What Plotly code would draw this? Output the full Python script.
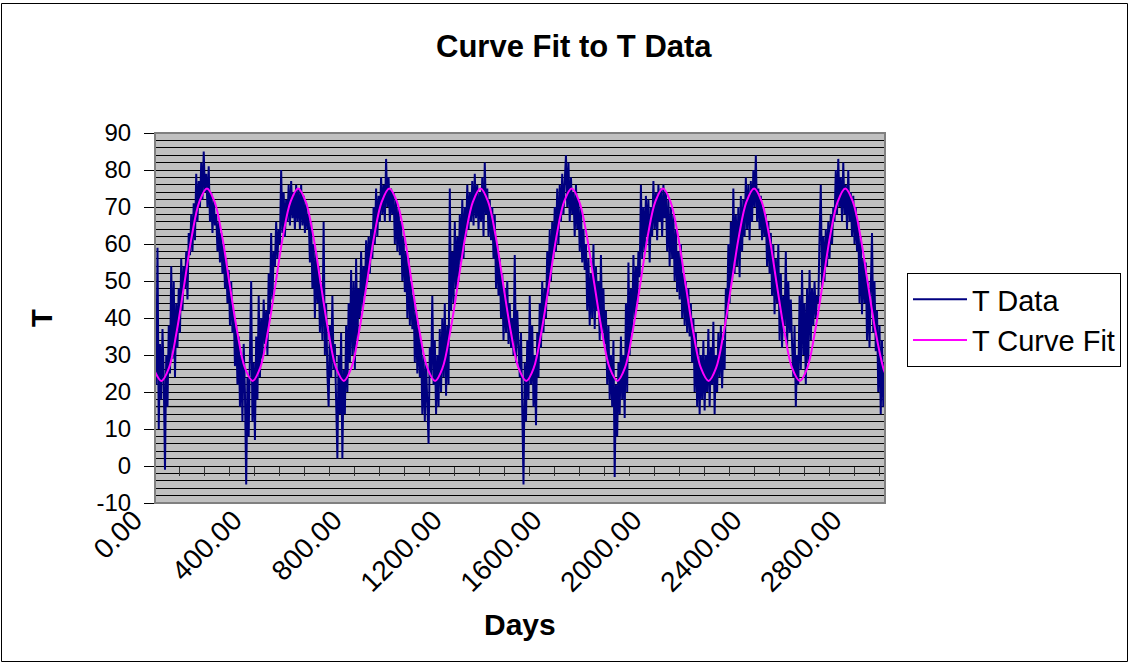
import plotly.graph_objects as go

# Daily temperature record, sampled every 5 days, one list per year
year1_T = [30, 22, 59, 10, 33, 18, 37, 24, -1, 30, 16, 38,
           25, 54, 29, 50, 24, 44, 32, 48, 36, 56, 42, 54,
           48, 58, 45, 63, 57, 68, 58, 71, 61, 79, 66, 77,
           70, 82, 72, 85, 74, 79, 70, 81, 66, 74, 63, 72,
           65, 68, 58, 66, 55, 63, 52, 60, 48, 56, 44, 53,
           38, 50, 36, 42, 27, 38, 22, 35, 16, 30, 12, 33,
           20]
year2_T = [-5, 24, 8, 30, 50, 12, 28, 7, 35, 18, 46, 24,
           40, 29, 45, 33, 42, 30, 52, 41, 63, 45, 58, 54,
           66, 56, 64, 60, 80, 63, 74, 62, 72, 66, 76, 65,
           77, 67, 74, 64, 76, 66, 75, 64, 76, 65, 73, 63,
           71, 64, 68, 55, 66, 48, 60, 40, 58, 44, 54, 36,
           49, 34, 66, 30, 44, 25, 16, 38, 24, 46, 26, 33,
           20]
year3_T = [2, 30, 14, 36, 2, 26, 14, 38, 20, 44, 28, 53,
           30, 50, 26, 56, 34, 48, 40, 58, 42, 54, 46, 61,
           50, 62, 52, 64, 56, 70, 60, 75, 62, 73, 66, 78,
           68, 76, 66, 83, 70, 78, 66, 75, 68, 74, 60, 72,
           58, 70, 57, 66, 50, 62, 47, 58, 40, 56, 38, 50,
           37, 46, 28, 42, 25, 38, 24, 34, 14, 30, 12, 28,
           18]
year4_T = [6, 32, 24, 46, 22, 34, 14, 30, 16, 37, 20, 40,
           24, 44, 19, 38, 22, 75, 42, 58, 44, 66, 48, 62,
           50, 68, 55, 72, 56, 70, 62, 76, 64, 74, 66, 77,
           65, 79, 67, 76, 64, 74, 66, 78, 62, 82, 68, 75,
           62, 72, 61, 70, 56, 68, 48, 60, 46, 56, 40, 52,
           34, 48, 36, 50, 33, 44, 32, 40, 30, 57, 28, 42,
           30]
year5_T = [24, 36, 20, -5, 28, 12, 34, 18, 46, 22, 38, 16,
           30, 11, 36, 24, 44, 32, 50, 36, 48, 40, 58, 46,
           64, 50, 66, 56, 70, 58, 75, 60, 76, 66, 79, 68,
           77, 84, 70, 82, 66, 78, 68, 74, 62, 76, 64, 72,
           58, 70, 55, 64, 53, 60, 42, 56, 38, 52, 40, 60,
           37, 54, 42, 50, 34, 57, 36, 48, 33, 42, 22, 38,
           18]
year6_T = [30, 16, 34, -3, 22, 8, 28, 14, 35, 18, 30, 13,
           44, 20, 55, 30, 48, 36, 57, 40, 54, 44, 58, 51,
           76, 56, 70, 58, 73, 62, 72, 55, 70, 62, 77, 64,
           74, 61, 76, 66, 75, 62, 76, 67, 74, 58, 72, 54,
           70, 56, 68, 50, 64, 47, 58, 45, 60, 40, 52, 38,
           50, 36, 48, 35, 44, 28, 40, 20, 36, 16, 32, 14,
           30]
year7_T = [18, 34, 15, 30, 20, 37, 16, 32, 22, 39, 14, 30,
           20, 36, 24, 38, 21, 34, 26, 48, 40, 60, 44, 66,
           50, 75, 52, 68, 54, 70, 51, 73, 58, 72, 62, 78,
           64, 76, 61, 77, 66, 80, 70, 84, 66, 75, 64, 73,
           61, 70, 62, 68, 54, 66, 52, 63, 46, 60, 41, 56,
           44, 60, 34, 52, 32, 46, 38, 58, 32, 50, 36, 45,
           33]
year8_T = [24, 38, 16, 30, 22, 46, 26, 53, 30, 44, 22, 48,
           28, 53, 34, 48, 38, 50, 40, 46, 44, 62, 76, 48,
           62, 50, 64, 54, 66, 56, 68, 60, 70, 66, 80, 68,
           83, 70, 78, 66, 82, 68, 76, 64, 80, 66, 74, 62,
           73, 60, 70, 58, 66, 44, 62, 41, 56, 44, 55, 34,
           50, 32, 46, 63, 36, 50, 31, 42, 20, 38, 14, 34,
           16, 28]

t_data = (year1_T + year2_T + year3_T + year4_T
          + year5_T + year6_T + year7_T + year8_T)
SAMPLE_STEP = 5
data_days = list(range(0, SAMPLE_STEP * len(t_data), SAMPLE_STEP))

# Fitted seasonal curve (monthly knots)
fit_days = [0, 26, 56, 86, 117, 147, 178,
            208, 238, 269, 299, 330, 360, 391, 421, 451, 482, 512, 543,
            573, 603, 634, 664, 695, 725, 756, 786, 816, 847, 877, 908,
            938, 968, 999, 1029, 1060, 1090, 1121, 1151, 1181, 1212, 1242, 1273,
            1303, 1333, 1364, 1394, 1425, 1455, 1486, 1516, 1546, 1577, 1607, 1638,
            1668, 1698, 1729, 1759, 1790, 1820, 1851, 1881, 1911, 1942, 1972, 2003,
            2033, 2063, 2094, 2124, 2155, 2185, 2216, 2246, 2276, 2307, 2337, 2368,
            2398, 2428, 2459, 2489, 2520, 2550, 2581, 2611, 2641, 2672, 2702, 2733,
            2763, 2793, 2824, 2854, 2885, 2915, 2921]
fit_T = [25.5, 23, 26.5, 36, 49, 62, 71.5,
         75, 71.5, 62, 49, 36, 26.5, 23, 26.5, 36, 49, 62, 71.5,
         75, 71.5, 62, 49, 36, 26.5, 23, 26.5, 36, 49, 62, 71.5,
         75, 71.5, 62, 49, 36, 26.5, 23, 26.5, 36, 49, 62, 71.5,
         75, 71.5, 62, 49, 36, 26.5, 23, 26.5, 36, 49, 62, 71.5,
         75, 71.5, 62, 49, 36, 26.5, 23, 26.5, 36, 49, 62, 71.5,
         75, 71.5, 62, 49, 36, 26.5, 23, 26.5, 36, 49, 62, 71.5,
         75, 71.5, 62, 49, 36, 26.5, 23, 26.5, 36, 49, 62, 71.5,
         75, 71.5, 62, 49, 36, 26.5, 25.3]

x_tick_days = [0, 400, 800, 1200, 1600, 2000, 2400, 2800]
x_tick_text = ["0.00", "400.00", "800.00", "1200.00", "1600.00",
               "2000.00", "2400.00", "2800.00"]
y_tick_vals = [-10, 0, 10, 20, 30, 40, 50, 60, 70, 80, 90]
y_tick_text = ["-10", "0", "10", "20", "30", "40", "50", "60", "70", "80", "90"]
X_MAX = 2922
Y_MIN, Y_MAX = -10, 90

# Page geometry (pixels) and helpers to convert to paper coordinates
W, H = 1130, 664
ML, MR, MT, MB = 155, 245, 133, 161
PW, PH = W - ML - MR, H - MT - MB


def px(x):
    return (x - ML) / PW


def py(y):
    return (H - MB - y) / PH


FONT = "Liberation Sans, Arial, sans-serif"

fig = go.Figure()
fig.add_trace(go.Scatter(
    x=data_days, y=t_data, mode="lines", name="T Data",
    line=dict(color="#000080", width=2), legendgroup="data"))
fig.add_trace(go.Scatter(
    x=fit_days, y=fit_T, mode="lines", name="T Curve Fit",
    line=dict(color="#FF00FF", width=2, shape="spline", smoothing=1.0),
    xaxis="x2", legendgroup="fit"))

zero_pos = (0 - Y_MIN) / (Y_MAX - Y_MIN)

fig.update_layout(
    width=W, height=H,
    margin=dict(l=ML, r=MR, t=MT, b=MB, autoexpand=False),
    paper_bgcolor="white",
    plot_bgcolor="#C0C0C0",
    font=dict(family=FONT, color="black"),
    showlegend=True,
    xaxis=dict(
        range=[0, X_MAX], tickmode="array", tickvals=x_tick_days,
        ticktext=x_tick_text, tickangle=-45, ticks="", showgrid=False,
        zeroline=False, showline=False, tickfont=dict(size=28),
        ticklabelshift=-21, ticklabelstandoff=-6, automargin=False),
    xaxis2=dict(
        range=[0, X_MAX], overlaying="x", anchor="free", position=zero_pos,
        side="bottom", tick0=0, dtick=100, ticks="outside", ticklen=9,
        tickwidth=1, tickcolor="#333333", showticklabels=False,
        showline=True, linecolor="black", linewidth=1, showgrid=False,
        zeroline=False, layer="below traces"),
    yaxis=dict(
        range=[Y_MIN, Y_MAX], tickmode="array", tickvals=y_tick_vals,
        ticktext=y_tick_text, ticks="outside",
        ticklen=10, tickcolor="black", showline=True, linecolor="black",
        linewidth=1, showgrid=True, gridcolor="black", gridwidth=1,
        zeroline=False, tickfont=dict(size=24), ticklabelstandoff=8,
        automargin=False,
        minor=dict(dtick=2, tick0=0, showgrid=True, gridcolor="black",
                   gridwidth=1, ticks="")),
    legend=dict(
        x=px(907), y=py(273), xanchor="left", yanchor="top",
        bordercolor="black", borderwidth=1, bgcolor="white",
        font=dict(size=29), tracegroupgap=0, itemwidth=54),
    annotations=[
        dict(text="<b>Curve Fit to T Data</b>", x=px(574), y=py(47),
             xref="paper", yref="paper", showarrow=False,
             font=dict(size=31), xanchor="center", yanchor="middle"),
        dict(text="<b>T</b>", x=px(42), y=py(318), xref="paper",
             yref="paper", showarrow=False, textangle=-90,
             font=dict(size=29), xanchor="center", yanchor="middle"),
        dict(text="<b>Days</b>", x=px(520), y=py(624), xref="paper",
             yref="paper", showarrow=False, font=dict(size=30),
             xanchor="center", yanchor="middle"),
    ],
    shapes=[
        # darker reference line across the plot
        dict(type="line", xref="paper", yref="y", x0=0, x1=1, y0=16, y1=16,
             line=dict(color="#808080", width=2), layer="between"),
        # plot area frame
        dict(type="rect", xref="paper", yref="paper", x0=0, x1=1, y0=0, y1=1,
             line=dict(color="#808080", width=2)),
        # chart area frame
        dict(type="rect", xref="paper", yref="paper",
             x0=px(1.5), x1=px(1127.5), y0=py(661.5), y1=py(3.5),
             line=dict(color="black", width=1)),
    ],
)

fig.write_html("out.html")
